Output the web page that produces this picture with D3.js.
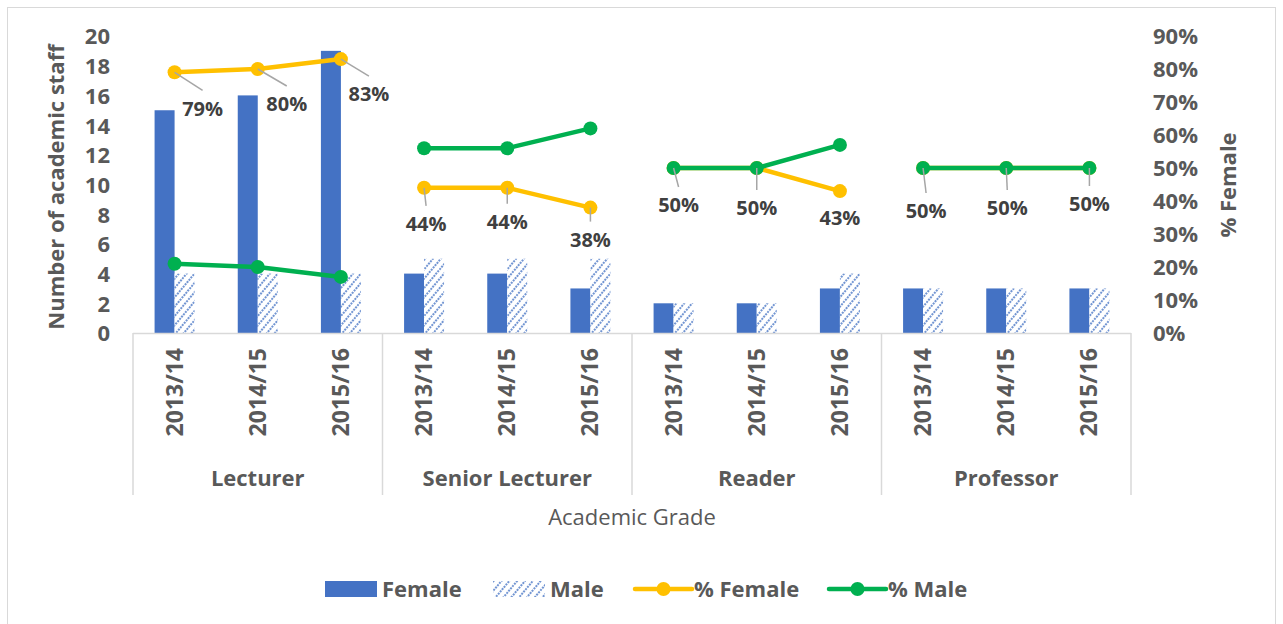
<!DOCTYPE html>
<html>
<head>
<meta charset="utf-8">
<script src="https://cdn.jsdelivr.net/npm/d3@7"></script>
<style>
  body { margin: 0; background: #fff; }
  text { font-family: "Open Sans", "Lato", sans-serif; }
</style>
</head>
<body>
<svg id="chart" width="1283" height="624"></svg>
<script>
// data
var grades = ["Lecturer", "Senior Lecturer", "Reader", "Professor"];
var years = ["2013/14", "2014/15", "2015/16"];
var female = [15, 16, 19, 4, 4, 3, 2, 2, 3, 3, 3, 3];
var male = [4, 4, 4, 5, 5, 5, 2, 2, 4, 3, 3, 3];
var pctFemale = [0.79, 0.80, 0.83, 0.44, 0.44, 0.38, 0.50, 0.50, 0.43, 0.50, 0.50, 0.50];
var pctMale = [0.21, 0.20, 0.17, 0.56, 0.56, 0.62, 0.50, 0.50, 0.57, 0.50, 0.50, 0.50];
var leftTicks = [0, 2, 4, 6, 8, 10, 12, 14, 16, 18, 20];
var rightTicks = [0, 0.1, 0.2, 0.3, 0.4, 0.5, 0.6, 0.7, 0.8, 0.9];

// where each % Female label sits relative to its point (layout only)
var labelShift = [[28, 36], [29, 35], [28, 35], [2, 36], [0, 34], [0, 32],
                  [5, 37], [0, 40], [0, 27], [3, 43], [1, 40], [0, 36]];

var rows = [];
grades.forEach(function (g, gi) {
  years.forEach(function (y, yi) {
    var i = gi * years.length + yi;
    rows.push({ i: i, grade: g, year: y, female: female[i], male: male[i],
                pf: pctFemale[i], pm: pctMale[i] });
  });
});

var svg = d3.select("#chart");
var plotL = 133, plotR = 1131, plotT = 36, plotB = 333;
var blue = "#4472C4", yellow = "#FFC000", green = "#00B050", grey = "#595959";

// chart frame
svg.append("rect").attr("x", 7.5).attr("y", 7.5).attr("width", 1268).attr("height", 640)
  .attr("fill", "#fff").attr("stroke", "#d9d9d9");

var defs = svg.append("defs");
var pat = defs.append("pattern").attr("id", "hatch").attr("patternUnits", "userSpaceOnUse")
  .attr("width", 6).attr("height", 6).attr("patternTransform", "rotate(40)");
pat.append("rect").attr("width", 6).attr("height", 6).attr("fill", "#fff");
pat.append("line").attr("x1", 1).attr("y1", 0).attr("x2", 1).attr("y2", 6)
  .attr("stroke", blue).attr("stroke-width", 1.5).attr("stroke-dasharray", "2,1");

var x = d3.scaleBand().domain(rows.map(function (d) { return d.i; })).range([plotL, plotR]);
var bw = 20;
var sub = d3.scaleBand().domain(["female", "male"])
  .range([x.bandwidth() / 2 - bw, x.bandwidth() / 2 + bw]);
var y = d3.scaleLinear().domain([0, 20]).range([plotB, plotT]);
var yR = d3.scaleLinear().domain([0, 0.9]).range([plotB, plotT]);
var cx = function (d) { return x(d.i) + x.bandwidth() / 2; };

function bold(sel, size) {
  return sel.attr("fill", grey).style("font-size", size + "px").style("font-weight", "bold");
}

// axes (no lines, no ticks)
var ax = svg.append("g").attr("transform", "translate(110,0)")
  .call(d3.axisLeft(y).tickValues(leftTicks).tickSize(0).tickPadding(0));
var axR = svg.append("g").attr("transform", "translate(1153,0)")
  .call(d3.axisRight(yR).tickValues(rightTicks).tickSize(0).tickPadding(0).tickFormat(d3.format(".0%")));
[ax, axR].forEach(function (a) {
  a.select(".domain").remove();
  bold(a.selectAll("text"), 22).style("font-family", "'Open Sans', sans-serif").attr("dy", "0.36em");
});

bold(svg.append("text").attr("transform", "translate(64,187)rotate(-90)").attr("text-anchor", "middle"), 22)
  .text("Number of academic staff");
bold(svg.append("text").attr("transform", "translate(1236,185)rotate(-90)").attr("text-anchor", "middle"), 22)
  .text("% Female");

// bars
var bars = svg.append("g").selectAll("g").data(rows).enter().append("g")
  .attr("transform", function (d) { return "translate(" + x(d.i) + ",0)"; });
bars.append("rect").attr("x", sub("female")).attr("width", sub.bandwidth())
  .attr("y", function (d) { return y(d.female); })
  .attr("height", function (d) { return y(0) - y(d.female); }).attr("fill", blue);
bars.append("rect").attr("x", sub("male")).attr("width", sub.bandwidth())
  .attr("y", function (d) { return y(d.male); })
  .attr("height", function (d) { return y(0) - y(d.male); }).attr("fill", "url(#hatch)");

// category axis with grouped labels
var catAxis = svg.append("g");
catAxis.append("line").attr("x1", plotL).attr("x2", plotR).attr("y1", plotB + 0.5).attr("y2", plotB + 0.5)
  .attr("stroke", "#d9d9d9").attr("stroke-width", 1.5);
var gw = x.bandwidth() * years.length;
grades.forEach(function (g, gi) {
  var gx = plotL + gi * gw;
  catAxis.append("line").attr("x1", gx).attr("x2", gx).attr("y1", plotB).attr("y2", 495)
    .attr("stroke", "#d9d9d9").attr("stroke-width", 1.5);
  bold(catAxis.append("text").attr("x", gx + gw / 2).attr("y", 486).attr("text-anchor", "middle"), 22).text(g);
});
catAxis.append("line").attr("x1", plotR).attr("x2", plotR).attr("y1", plotB).attr("y2", 495)
  .attr("stroke", "#d9d9d9").attr("stroke-width", 1.5);
bold(catAxis.selectAll(".yr").data(rows).enter().append("text").attr("class", "yr")
  .attr("transform", function (d) { return "translate(" + (cx(d) + 8) + ",348)rotate(-90)"; })
  .attr("text-anchor", "end"), 23)
  .text(function (d) { return d.year; });

svg.append("text").attr("x", (plotL + plotR) / 2).attr("y", 525).attr("text-anchor", "middle")
  .attr("fill", grey).style("font-size", "22px").text("Academic Grade");

// lines, broken between grades
function drawSeries(key, color) {
  var line = d3.line().x(cx).y(function (d) { return yR(d[key]); });
  var g = svg.append("g");
  grades.forEach(function (gr) {
    var seg = rows.filter(function (d) { return d.grade === gr; });
    g.append("path").datum(seg).attr("d", line).attr("fill", "none")
      .attr("stroke", color).attr("stroke-width", 4.5).attr("stroke-linejoin", "round");
  });
  g.selectAll("circle").data(rows).enter().append("circle")
    .attr("cx", cx).attr("cy", function (d) { return yR(d[key]); })
    .attr("r", 7).attr("fill", color);
}
drawSeries("pf", yellow);
drawSeries("pm", green);

// % Female labels with leader lines
var lab = svg.append("g").selectAll("g").data(rows).enter().append("g");
lab.append("line")
  .attr("x1", cx).attr("y1", function (d) { return yR(d.pf); })
  .attr("x2", function (d) { return cx(d) + labelShift[d.i][0]; })
  .attr("y2", function (d) { return yR(d.pf) + labelShift[d.i][1] - 18; })
  .attr("stroke", "#a6a6a6").attr("stroke-width", 1.5)
  .style("display", function (d) { return labelShift[d.i][1] - 18 > 12 ? null : "none"; });
lab.append("text")
  .attr("x", function (d) { return cx(d) + labelShift[d.i][0]; })
  .attr("y", function (d) { return yR(d.pf) + labelShift[d.i][1]; })
  .attr("dy", "0.36em").attr("text-anchor", "middle").attr("fill", "#404040")
  .style("font-size", "20px").style("font-weight", "bold")
  .text(function (d) { return d3.format(".0%")(d.pf); });

// legend
var leg = svg.append("g").attr("transform", "translate(0,589)");
var items = [
  { name: "Female", x: 325, kind: "bar", fill: blue },
  { name: "Male", x: 493, kind: "bar", fill: "url(#hatch)" },
  { name: "% Female", x: 635, kind: "line", fill: yellow },
  { name: "% Male", x: 829, kind: "line", fill: green }
];
items.forEach(function (it) {
  if (it.kind === "bar") {
    leg.append("rect").attr("x", it.x).attr("y", -8).attr("width", 52).attr("height", 16).attr("fill", it.fill);
  } else {
    leg.append("line").attr("x1", it.x).attr("x2", it.x + 57).attr("y1", 0).attr("y2", 0)
      .attr("stroke", it.fill).attr("stroke-width", 4.5).attr("stroke-linecap", "round");
    leg.append("circle").attr("cx", it.x + 28.5).attr("cy", 0).attr("r", 7).attr("fill", it.fill);
  }
  bold(leg.append("text").attr("x", it.kind === "bar" ? it.x + 57 : it.x + 59).attr("y", 0).attr("dy", "0.36em"), 22)
    .text(it.name);
});
</script>
</body>
</html>
